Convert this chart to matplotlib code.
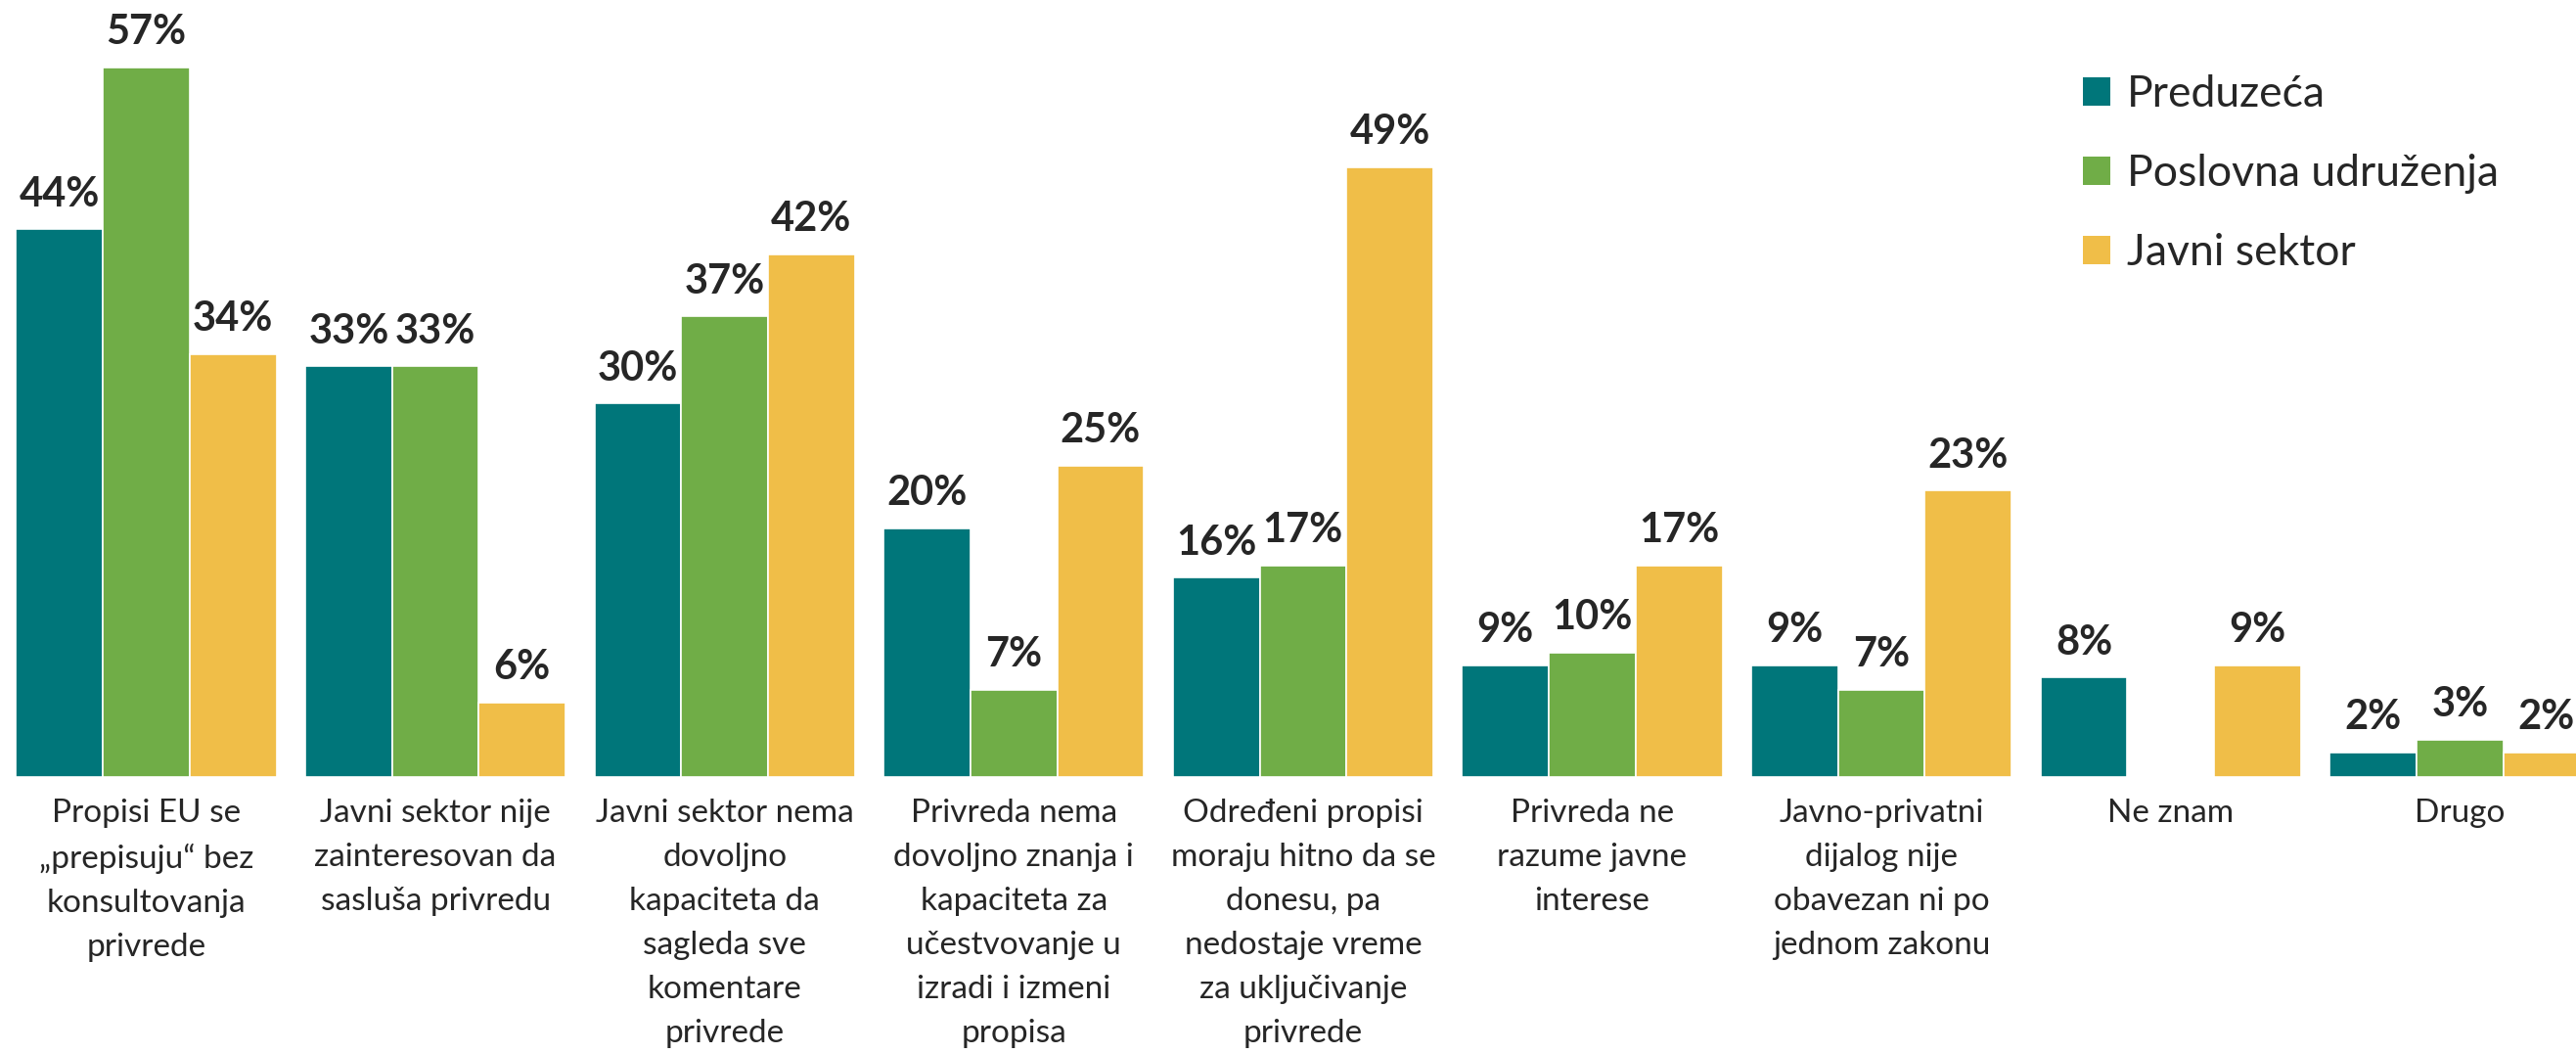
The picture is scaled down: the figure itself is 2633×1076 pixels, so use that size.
import numpy as np
import matplotlib
matplotlib.use("Agg")
import matplotlib.pyplot as plt
from matplotlib.patches import Patch

categories = [
    "Propisi EU se\n„prepisuju“ bez\nkonsultovanja\nprivrede",
    "Javni sektor nije\nzainteresovan da\nsasluša privredu",
    "Javni sektor nema\ndovoljno\nkapaciteta da\nsagleda sve\nkomentare\nprivrede",
    "Privreda nema\ndovoljno znanja i\nkapaciteta za\nučestvovanje u\nizradi i izmeni\npropisa",
    "Određeni propisi\nmoraju hitno da se\ndonesu, pa\nnedostaje vreme\nza uključivanje\nprivrede",
    "Privreda ne\nrazume javne\ninterese",
    "Javno-privatni\ndijalog nije\nobavezan ni po\njednom zakonu",
    "Ne znam",
    "Drugo",
]
series_names = ["Preduzeća", "Poslovna udruženja", "Javni sektor"]
preduzeca = [44, 33, 30, 20, 16, 9, 9, 8, 2]
poslovna = [57, 33, 37, 7, 17, 10, 7, np.nan, 3]
javni = [34, 6, 42, 25, 49, 17, 23, 9, 2]
colors = ["#00767A", "#70AD47", "#F0BE48"]

plt.rcParams['font.family'] = ['Lato', 'DejaVu Sans']
text_color = "#262626"

W, H = 2633, 1076
fig = plt.figure(figsize=(W / 100, H / 100), dpi=100)
base_y = 794
ax = fig.add_axes([0, (H - base_y) / H, 1, base_y / H])

spacing = 295.6
c0 = 149.5
ax.set_xlim(-c0 / spacing, (W - c0) / spacing)
ax.set_ylim(0, base_y / 12.72)

x = np.arange(len(categories))
bw = 0.3
for i, (vals, col) in enumerate(zip([preduzeca, poslovna, javni], colors)):
    off = (i - 1) * bw
    v = np.array(vals, dtype=float)
    ax.bar(x + off, np.nan_to_num(v), width=bw, color=col,
           edgecolor="white", linewidth=1.2, label=series_names[i])
    for xi, val in zip(x + off, v):
        if np.isnan(val):
            continue
        ax.annotate(f"{int(val)}%", (xi, val), xytext=(0, 17),
                    textcoords="offset points", ha="center", va="baseline",
                    fontsize=30, fontweight="bold", color=text_color)

ax.set_xticks(x)
ax.set_xticklabels(categories, fontsize=24, color=text_color, linespacing=1.62)
ax.tick_params(axis="x", length=0, pad=16)
ax.set_yticks([])
for s in ax.spines.values():
    s.set_visible(False)

handles = [Patch(facecolor=c, edgecolor="none") for c in colors]
leg = fig.legend(handles, series_names, loc="upper left",
                 bbox_to_anchor=(2129 / W, 1 - 76 / H), frameon=False,
                 fontsize=32, handlelength=0.62, handleheight=0.62,
                 handletextpad=0.4, labelspacing=0.9, borderpad=0,
                 borderaxespad=0)
for t in leg.get_texts():
    t.set_color(text_color)

fig.savefig("out.png", dpi=100)
